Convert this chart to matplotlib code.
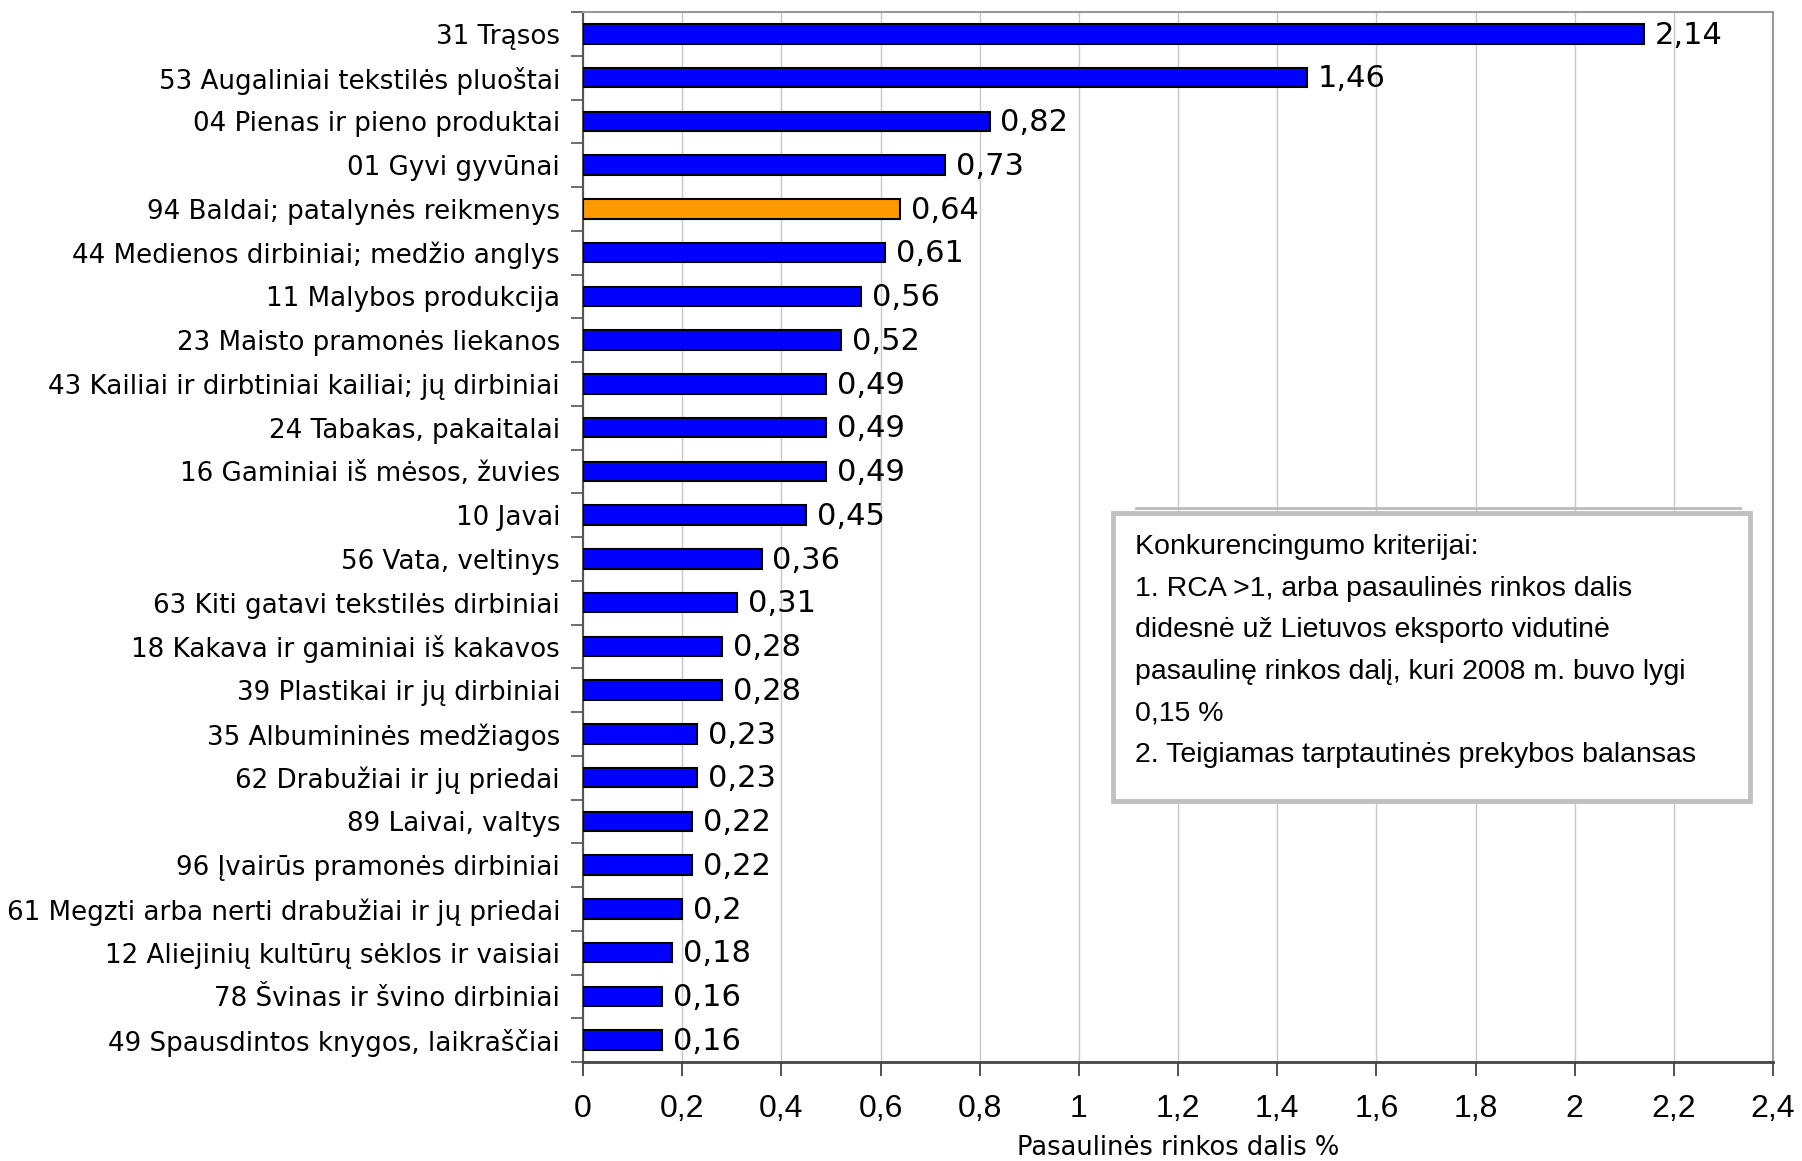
import matplotlib
matplotlib.use("Agg")
import matplotlib.pyplot as plt
from matplotlib.patches import Rectangle
from matplotlib.lines import Line2D

categories = [
    "31 Trąsos",
    "53 Augaliniai tekstilės pluoštai",
    "04 Pienas ir pieno produktai",
    "01 Gyvi gyvūnai",
    "94 Baldai; patalynės reikmenys",
    "44 Medienos dirbiniai; medžio anglys",
    "11 Malybos produkcija",
    "23 Maisto pramonės liekanos",
    "43 Kailiai ir dirbtiniai kailiai; jų dirbiniai",
    "24 Tabakas, pakaitalai",
    "16 Gaminiai iš mėsos, žuvies",
    "10 Javai",
    "56 Vata, veltinys",
    "63 Kiti gatavi tekstilės dirbiniai",
    "18 Kakava ir gaminiai iš kakavos",
    "39 Plastikai ir jų dirbiniai",
    "35 Albumininės medžiagos",
    "62 Drabužiai ir jų priedai",
    "89 Laivai, valtys",
    "96 Įvairūs pramonės dirbiniai",
    "61 Megzti arba nerti drabužiai ir jų priedai",
    "12 Aliejinių kultūrų sėklos ir vaisiai",
    "78 Švinas ir švino dirbiniai",
    "49 Spausdintos knygos, laikraščiai",
]
values = [2.14, 1.46, 0.82, 0.73, 0.64, 0.61, 0.56, 0.52, 0.49, 0.49, 0.49, 0.45,
          0.36, 0.31, 0.28, 0.28, 0.23, 0.23, 0.22, 0.22, 0.20, 0.18, 0.16, 0.16]
value_labels = ["2,14", "1,46", "0,82", "0,73", "0,64", "0,61", "0,56", "0,52", "0,49",
                "0,49", "0,49", "0,45", "0,36", "0,31", "0,28", "0,28", "0,23", "0,23",
                "0,22", "0,22", "0,2", "0,18", "0,16", "0,16"]
highlight = "94 Baldai; patalynės reikmenys"
xticks = [0, 0.2, 0.4, 0.6, 0.8, 1.0, 1.2, 1.4, 1.6, 1.8, 2.0, 2.2, 2.4]
xtick_labels = ["0", "0,2", "0,4", "0,6", "0,8", "1", "1,2", "1,4", "1,6", "1,8", "2", "2,2", "2,4"]
xlabel = "Pasaulinės rinkos dalis %"
box_text = ("Konkurencingumo kriterijai:\n"
            "1. RCA >1, arba pasaulinės rinkos dalis\n"
            "didesnė už Lietuvos eksporto vidutinė\n"
            "pasaulinę rinkos dalį, kuri 2008 m. buvo lygi\n"
            "0,15 %\n"
            "2. Teigiamas tarptautinės prekybos balansas")

WIDE = ["DejaVu Sans"]
SANS = ["Liberation Sans", "DejaVu Sans"]

W, H = 1802, 1161
fig = plt.figure(figsize=(W / 100, H / 100), dpi=100)
ax = fig.add_axes([583 / W, 1 - 1062 / H, (1773 - 583) / W, (1062 - 12) / H])

n = len(categories)
ypos = list(range(n))[::-1]
colors = ["#FF9900" if c == highlight else "#0000FF" for c in categories]
ax.barh(ypos, values, height=0.45, color=colors, edgecolor="black", linewidth=1.5, zorder=3)

for y, v, lab in zip(ypos, values, value_labels):
    ax.text(v + 0.022, y - 0.03, lab, va="center", ha="left", fontsize=22, family=WIDE, zorder=4)

ax.set_xlim(0, 2.4)
ax.set_ylim(-0.5, n - 0.5)
ax.set_xticks(xticks)
ax.set_xticklabels(xtick_labels, family=SANS, fontsize=23)
ax.set_yticks(ypos)
ax.set_yticklabels(categories, family=WIDE, fontsize=18.8)
ax.tick_params(axis="y", length=0, pad=16.5)
ax.set_yticks([i - 0.5 for i in range(n + 1)], minor=True)
ax.tick_params(axis="y", which="minor", length=9, width=1.2, color="#555555", direction="out")
ax.tick_params(axis="x", length=10, width=1.2, color="#333333", pad=13, direction="out")

fig.text((583 + 1773) / 2 / W, 1 - 1148 / H, xlabel, ha="center", va="center",
         family=WIDE, fontsize=18.5)

ax.grid(axis="x", color="#C8C8C8", linewidth=1.0, zorder=0)
ax.set_axisbelow(True)
for s in ["top", "right"]:
    ax.spines[s].set_color("#999999")
    ax.spines[s].set_linewidth(1.5)
ax.spines["left"].set_color("#555555")
ax.spines["left"].set_linewidth(1.5)
ax.spines["bottom"].set_color("#444444")
ax.spines["bottom"].set_linewidth(2.0)

# text box
bx0, by0, bx1, by1 = 1113, 513, 1750, 801
fig.add_artist(Line2D([1136 / W, 1740 / W], [1 - 508 / H, 1 - 508 / H], transform=fig.transFigure,
                      color="#BBBBBB", linewidth=2, zorder=5))
box = Rectangle((bx0 / W, 1 - by1 / H), (bx1 - bx0) / W, (by1 - by0) / H,
                transform=fig.transFigure, facecolor="white", edgecolor="#C0C0C0",
                linewidth=3.5, zorder=6)
fig.add_artist(box)
fig.text((bx0 + 22) / W, 1 - (by0 + 21) / H, box_text, ha="left", va="top",
         fontsize=20.5, family=SANS, linespacing=1.78, zorder=7)

fig.savefig("out.png", dpi=100)
